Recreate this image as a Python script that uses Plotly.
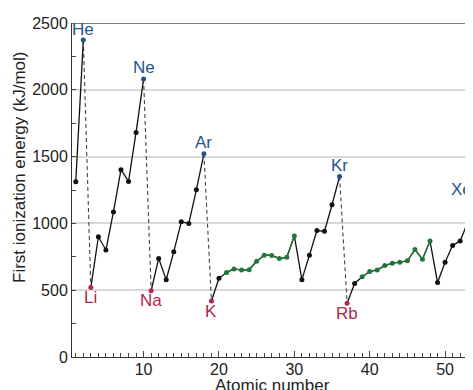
import plotly.graph_objects as go

# ---- data -------------------------------------------------------------
atomic_number = list(range(1, 55))
symbols = ["H", "He", "Li", "Be", "B", "C", "N", "O", "F", "Ne",
           "Na", "Mg", "Al", "Si", "P", "S", "Cl", "Ar", "K", "Ca",
           "Sc", "Ti", "V", "Cr", "Mn", "Fe", "Co", "Ni", "Cu", "Zn",
           "Ga", "Ge", "As", "Se", "Br", "Kr", "Rb", "Sr", "Y", "Zr",
           "Nb", "Mo", "Tc", "Ru", "Rh", "Pd", "Ag", "Cd", "In", "Sn",
           "Sb", "Te", "I", "Xe"]
ionization_energy = [1312, 2372, 520, 900, 801, 1086, 1402, 1314, 1681, 2081,
                     496, 738, 578, 787, 1012, 1000, 1251, 1521, 419, 590,
                     633, 659, 651, 653, 717, 762, 760, 737, 746, 906,
                     579, 762, 947, 941, 1140, 1351, 403, 550, 600, 640,
                     652, 684, 702, 710, 720, 804, 731, 868, 558, 709,
                     834, 869, 1008, 1170]
noble_gases = ["He", "Ne", "Ar", "Kr", "Xe"]
alkali_metals = ["Li", "Na", "K", "Rb"]
transition_metals = ["Sc", "Ti", "V", "Cr", "Mn", "Fe", "Co", "Ni", "Cu", "Zn",
                     "Y", "Zr", "Nb", "Mo", "Tc", "Ru", "Rh", "Pd", "Ag", "Cd"]
x_ticks = [10, 20, 30, 40, 50]
y_ticks = [0, 500, 1000, 1500, 2000, 2500]

BLUE = "#23538f"
RED = "#b3274b"
GREEN = "#22773a"
FONT = "Liberation Sans, Arial, sans-serif"

# ---- segments ---------------------------------------------------------
solid_x, solid_y, green_x, green_y, dash_x, dash_y = [], [], [], [], [], []
for i in range(len(atomic_number) - 1):
    a, b = symbols[i], symbols[i + 1]
    seg_x = [atomic_number[i], atomic_number[i + 1], None]
    seg_y = [ionization_energy[i], ionization_energy[i + 1], None]
    if a in noble_gases:
        dash_x += seg_x
        dash_y += seg_y
    else:
        solid_x += seg_x
        solid_y += seg_y
        if a in transition_metals and b in transition_metals:
            green_x += seg_x
            green_y += seg_y

fig = go.Figure()
fig.add_trace(go.Scatter(x=dash_x, y=dash_y, mode="lines",
                         line=dict(color="#444444", width=1.1, dash="4px,3px"),
                         hoverinfo="skip"))
fig.add_trace(go.Scatter(x=solid_x, y=solid_y, mode="lines",
                         line=dict(color="#111111", width=1.3), hoverinfo="skip"))
fig.add_trace(go.Scatter(x=green_x, y=green_y, mode="lines",
                         line=dict(color=GREEN, width=1.3), hoverinfo="skip"))


def subset(names):
    xs = [z for z, s in zip(atomic_number, symbols) if s in names]
    ys = [e for e, s in zip(ionization_energy, symbols) if s in names]
    ss = [s for s in symbols if s in names]
    return xs, ys, ss


other = [s for s in symbols if s not in noble_gases + alkali_metals + transition_metals]
ox, oy, _ = subset(other)
fig.add_trace(go.Scatter(x=ox, y=oy, mode="markers",
                         marker=dict(color="#111111", size=5)))
tx, ty, _ = subset(transition_metals)
fig.add_trace(go.Scatter(x=tx, y=ty, mode="markers",
                         marker=dict(color=GREEN, size=5)))
nx, ny, ns = subset(noble_gases)
fig.add_trace(go.Scatter(x=nx, y=ny, mode="markers",
                         marker=dict(color=BLUE, size=5)))
ax, ay, asy = subset(alkali_metals)
fig.add_trace(go.Scatter(x=ax, y=ay, mode="markers",
                         marker=dict(color=RED, size=5)))

for zx, zy, s in zip(nx, ny, ns):
    fig.add_annotation(x=zx, y=zy, text=s, showarrow=False,
                       xanchor="center", yanchor="middle", yshift=11,
                       xshift=-14 if s == "Xe" else 0,
                       font=dict(color=BLUE, size=17, family=FONT))
for zx, zy, s in zip(ax, ay, asy):
    fig.add_annotation(x=zx, y=zy, text=s, showarrow=False,
                       xanchor="center", yanchor="middle", yshift=-10,
                       font=dict(color=RED, size=17, family=FONT))

fig.add_shape(type="line", xref="paper", yref="y", x0=0, x1=1, y0=2500, y1=2500,
              line=dict(color="#7a7a7a", width=2), layer="above")

fig.add_annotation(text="First ionization energy (kJ/mol)", textangle=-90,
                   xref="paper", yref="paper", x=-0.1277, y=0.566,
                   xanchor="center", yanchor="middle", showarrow=False,
                   font=dict(size=17, color="#222222", family=FONT))
fig.add_annotation(text="Atomic number", xref="paper", yref="paper",
                   x=0.4925, y=-0.085, xanchor="center", yanchor="middle",
                   showarrow=False, font=dict(size=17, color="#222222", family=FONT))

# the page is cropped on the right: the plot area runs a little past the window
fig.update_layout(
    width=471, height=382,
    margin=dict(l=64, r=0, t=15, b=33),
    paper_bgcolor="white", plot_bgcolor="white",
    showlegend=False,
    font=dict(family=FONT, size=16, color="#222222"),
    xaxis=dict(range=[0.5, 54.5], tickvals=x_ticks, ticks="inside", ticklen=6,
               tickcolor="#444444", showgrid=False, zeroline=False,
               showline=True, linecolor="#333333", linewidth=1,
               tickfont=dict(size=16, color="#222222"), ticklabelstandoff=-2,
               minor=dict(dtick=1, tick0=0, ticks="inside", ticklen=4,
                          tickcolor="#444444", showgrid=False)),
    yaxis=dict(range=[0, 2500], tickvals=y_ticks, ticks="", showgrid=True,
               gridcolor="#d9d9d9", gridwidth=1.5, zeroline=False,
               showline=True, linecolor="#333333", linewidth=1,
               tickfont=dict(size=16, color="#222222"),
               minor=dict(dtick=250, tick0=0, ticks="inside", ticklen=4,
                          tickcolor="#444444", showgrid=False)),
)

fig.write_html("out.html")
